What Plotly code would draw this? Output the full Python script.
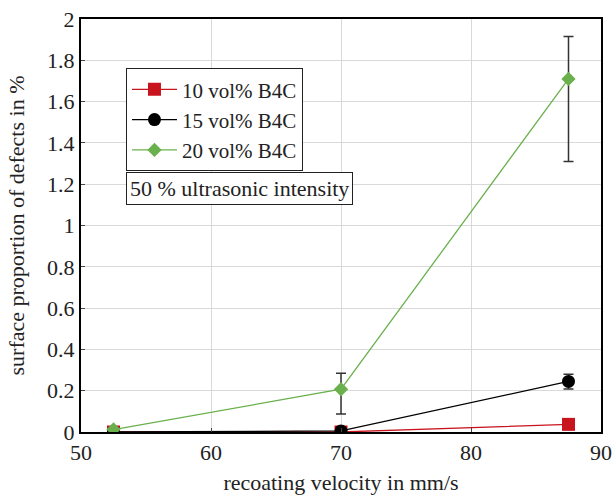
import plotly.graph_objects as go

velocity = [52.5, 70, 87.5]
names = ["10 vol% B4C", "15 vol% B4C", "20 vol% B4C"]
vals_10 = [0.0, 0.0, 0.037]
err_up_10 = [0.0, 0.0, 0.01]
err_dn_10 = [0.0, 0.0, 0.01]
vals_15 = [0.0, 0.005, 0.245]
err_up_15 = [0.0, 0.0, 0.035]
err_dn_15 = [0.0, 0.0, 0.037]
vals_20 = [0.012, 0.207, 1.71]
err_up_20 = [0.0, 0.077, 0.205]
err_dn_20 = [0.0, 0.12, 0.40]
y_ticks = [0, 0.2, 0.4, 0.6, 0.8, 1, 1.2, 1.4, 1.6, 1.8, 2]
y_tick_labels = ["0", "0.2", "0.4", "0.6", "0.8", "1", "1.2", "1.4", "1.6", "1.8", "2"]
x_ticks = [50, 60, 70, 80, 90]

FONT = "Liberation Serif, Times New Roman, serif"
FS = 22

series = [
    (names[0], vals_10, err_up_10, err_dn_10, "#C8141E", "square", 13),
    (names[1], vals_15, err_up_15, err_dn_15, "#000000", "circle", 13),
    (names[2], vals_20, err_up_20, err_dn_20, "#6AB04C", "diamond", 11),
]

fig = go.Figure()
for name, vals, eu, ed, color, sym, size in series:
    fig.add_trace(go.Scatter(
        x=velocity, y=vals, name=name, mode="lines+markers",
        line=dict(color=color, width=1.3),
        marker=dict(symbol=sym, size=size, color=color),
        error_y=dict(type="data", symmetric=False, array=eu, arrayminus=ed,
                     color="#333333", thickness=1.5, width=5),
    ))

fig.update_layout(
    width=612, height=495,
    margin=dict(l=81, r=11, t=19, b=63, autoexpand=False),
    paper_bgcolor="white", plot_bgcolor="white",
    font=dict(family=FONT, size=FS, color="#222222"),
    showlegend=True,
    legend=dict(
        x=0.0865, y=0.881, xanchor="left", yanchor="top",
        bordercolor="#222222", borderwidth=1, bgcolor="white",
        font=dict(family=FONT, size=21, color="#222222"),
        tracegroupgap=0, itemwidth=45,
    ),
    xaxis=dict(
        range=[50, 90], tickvals=x_ticks, showgrid=True, gridcolor="#d9d9d9", gridwidth=1,
        showline=True, linecolor="black", linewidth=2, mirror=True,
        ticks="inside", ticklen=4, tickcolor="#444444", automargin=False,
        title=dict(text="recoating velocity in mm/s", font=dict(size=FS), standoff=14),
        zeroline=False,
    ),
    yaxis=dict(
        range=[0, 2], tickvals=y_ticks, ticktext=y_tick_labels,
        showgrid=True, gridcolor="#d9d9d9", gridwidth=1,
        showline=True, linecolor="black", linewidth=2, mirror=True,
        ticks="inside", ticklen=4, tickcolor="#444444", automargin=False,
        title=dict(text="surface proportion of defects in %", font=dict(size=FS), standoff=16),
        zeroline=False,
    ),
    annotations=[dict(
        text="50 % ultrasonic intensity", xref="paper", yref="paper",
        x=0.0865, y=0.630, xanchor="left", yanchor="top", showarrow=False,
        bordercolor="#222222", borderwidth=1, borderpad=3, bgcolor="white",
        font=dict(family=FONT, size=FS, color="#222222"),
    )],
)

fig.write_html("out.html", config={"displayModeBar": False},
               post_script="document.body.style.margin='0';")
